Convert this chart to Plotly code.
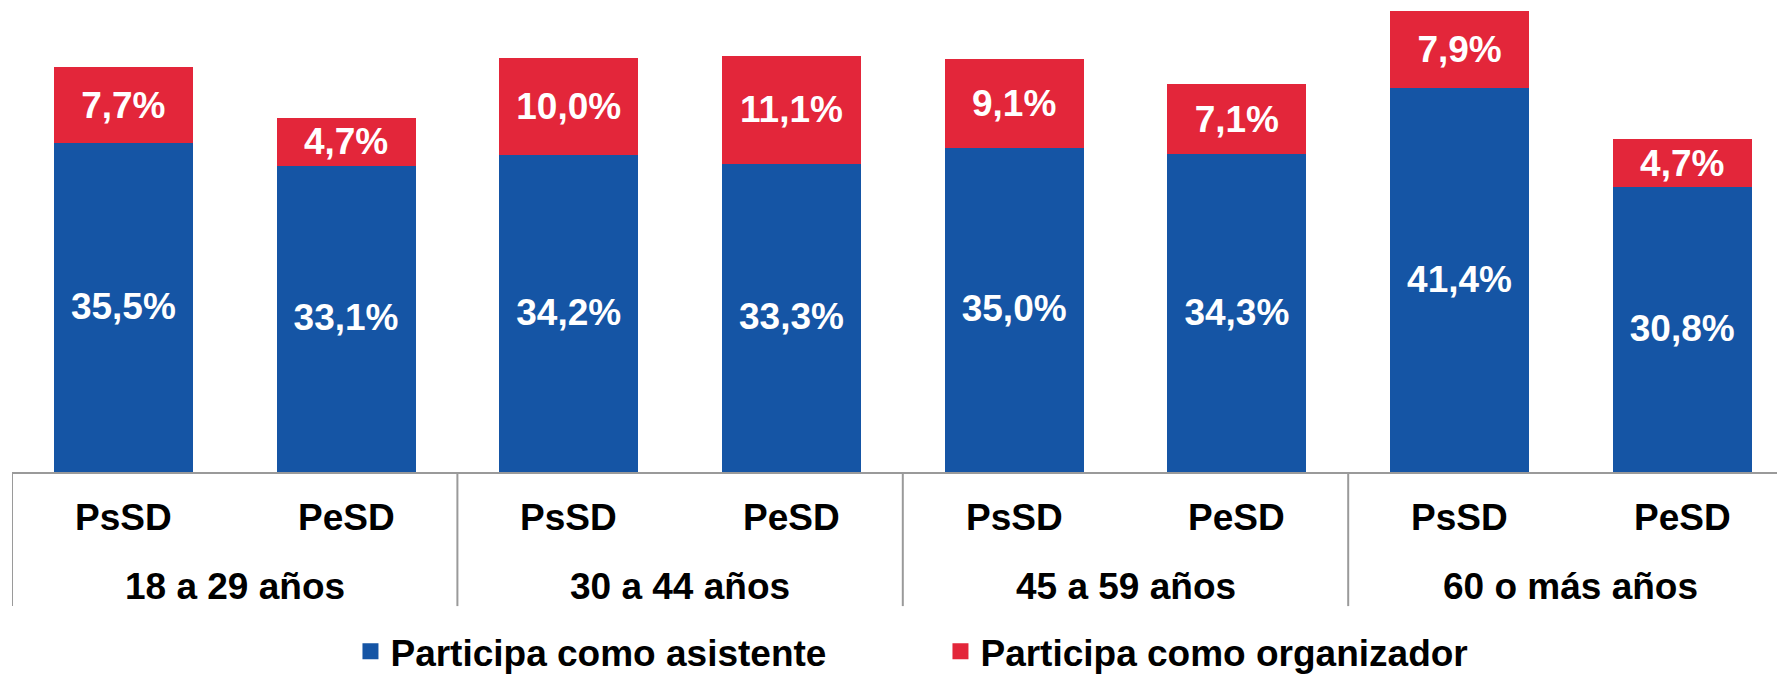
import plotly.graph_objects as go

groups = ["18 a 29 años", "30 a 44 años", "45 a 59 años", "60 o más años"]
subcats = ["PsSD", "PeSD"]
asistente = [35.5, 33.1, 34.2, 33.3, 35.0, 34.3, 41.4, 30.8]
organizador = [7.7, 4.7, 10.0, 11.1, 9.1, 7.1, 7.9, 4.7]
series_names = ["Participa como asistente", "Participa como organizador"]

BLUE = "#1555A5"
RED = "#E3263A"
GREY = "#9A9A9A"
FONT = "Liberation Sans, Arial, sans-serif"

n = len(asistente)
xs = list(range(n))
ticktext = [subcats[i % 2] for i in xs]

fig = go.Figure()
for vals, name, col in [(asistente, series_names[0], BLUE), (organizador, series_names[1], RED)]:
    fig.add_trace(go.Bar(
        x=xs, y=vals, name=name, marker=dict(color=col, line=dict(width=4, color=col)),
        width=0.606,
        texttemplate="%{y:.1f}%", textposition="inside", insidetextanchor="middle",
        constraintext="none",
        textfont=dict(family=FONT, size=37, color="white", weight="bold"),
        hoverinfo="skip",
    ))

shapes = []
for g in range(len(groups) + 1):
    xv = -0.5 + 2 * g
    if xv > n - 0.6:
        continue
    shapes.append(dict(type="line", xref="x", yref="paper", x0=xv, x1=xv, y0=0, y1=-0.289,
                       line=dict(color=GREY, width=2)))

annotations = []
for i, t in enumerate(ticktext):
    annotations.append(dict(x=xs[i], y=-0.097, xref="x", yref="paper", text=t, showarrow=False,
                            yanchor="middle", font=dict(family=FONT, size=37, color="black", weight="bold")))
for g, t in enumerate(groups):
    annotations.append(dict(x=2 * g + 0.5, y=-0.2457, xref="x", yref="paper", text=t, showarrow=False,
                            yanchor="middle", font=dict(family=FONT, size=37, color="black", weight="bold")))

fig.update_layout(
    width=1777, height=666,
    margin=dict(l=4, r=0, t=0, b=202, autoexpand=False),
    barmode="stack",
    separators=",.",
    paper_bgcolor="white", plot_bgcolor="white",
    xaxis=dict(range=[-0.5, -0.5 + 1773 / 222.7], showticklabels=False, showgrid=False,
               zeroline=False, showline=True, linecolor=GREY, linewidth=2, ticks="", fixedrange=True),
    yaxis=dict(range=[0, 464 / 9.32], visible=False, showgrid=False, zeroline=False, fixedrange=True),
    shapes=shapes,
    annotations=annotations,
    showlegend=True,
    legend=dict(orientation="h", x=0.1909, xanchor="left", y=-0.3875, yanchor="middle",
                font=dict(family=FONT, size=37, color="black", weight="bold"),
                entrywidth=545, entrywidthmode="pixels", traceorder="normal",
                bgcolor="rgba(0,0,0,0)"),
)

fig.write_html("out.html")
